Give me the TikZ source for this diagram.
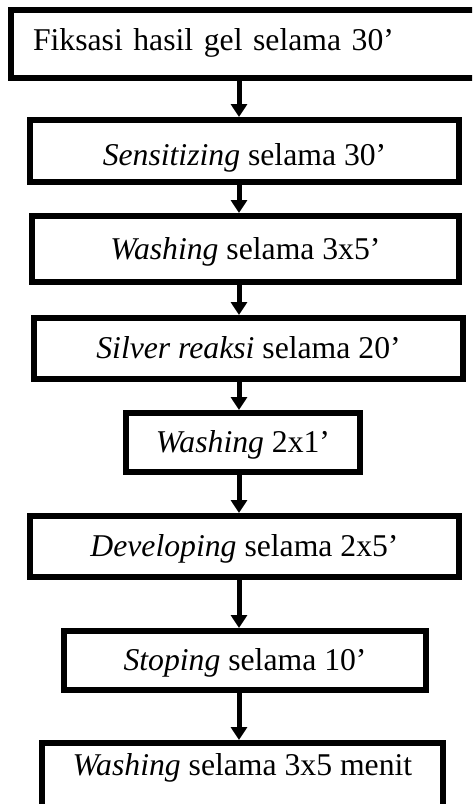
\documentclass[tikz,border=0pt]{standalone}
\usepackage{fontspec}
\setmainfont{Liberation Serif}
\usetikzlibrary{arrows.meta}
\begin{document}
\begin{tikzpicture}[x=1pt,y=-1pt,
  stepbox/.style={draw=black,line width=6pt,rectangle,inner sep=0pt,outer sep=3pt,
    font=\fontsize{31.7pt}{38pt}\selectfont,text height=20pt,text depth=0pt,fill=white},
  flowarrow/.style={line width=5pt,-{Triangle[length=13pt,width=16pt]}}]
\useasboundingbox (0,0) rectangle (472,804);
\clip (0,0) rectangle (472,804);
\fill[white] (0,0) rectangle (472,804);
\coordinate (ax) at (239,0);
\node[stepbox,minimum width=469pt,minimum height=68pt,text width=425pt,align=left,text height=12pt] (b1) at (245.5,44) {Fiksasi hasil gel selama 30’};
\node[stepbox,minimum width=429pt,minimum height=62pt,text height=28pt] (b2) at (244.5,151) {\textit{Sensitizing} selama 30’\hspace{37pt}};
\node[stepbox,minimum width=427pt,minimum height=66pt] (b3) at (245.5,249) {\textit{Washing} selama 3x5’};
\node[stepbox,minimum width=429pt,minimum height=61pt] (b4) at (248.5,348.5) {\textit{Silver reaksi} selama 20’};
\node[stepbox,minimum width=234pt,minimum height=59pt] (b5) at (243,442.5) {\textit{Washing} 2x1’};
\node[stepbox,minimum width=429pt,minimum height=61pt] (b6) at (244.5,546.5) {\textit{Developing} selama 2x5’};
\node[stepbox,minimum width=362pt,minimum height=59pt] (b7) at (245,660.5) {\textit{Stoping} selama 10’};
\node[stepbox,minimum width=401pt,minimum height=100pt,text height=0pt,text depth=36pt] (b8) at (242.5,793) {\textit{Washing} selama 3x5 menit};
\draw[flowarrow] (b1.south -| ax) -- (b2.north -| ax);
\draw[flowarrow] (b2.south -| ax) -- (b3.north -| ax);
\draw[flowarrow] (b3.south -| ax) -- (b4.north -| ax);
\draw[flowarrow] (b4.south -| ax) -- (b5.north -| ax);
\draw[flowarrow] (b5.south -| ax) -- (b6.north -| ax);
\draw[flowarrow] (b6.south -| ax) -- (b7.north -| ax);
\draw[flowarrow] (b7.south -| ax) -- (b8.north -| ax);
\end{tikzpicture}
\end{document}
